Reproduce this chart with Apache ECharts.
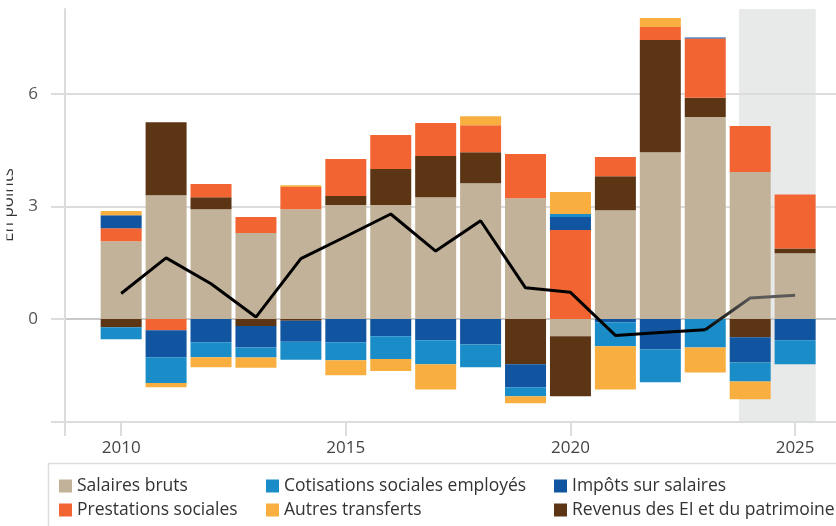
<!DOCTYPE html>
<html>
<head>
<meta charset="utf-8">
<script src="https://cdn.jsdelivr.net/npm/echarts@6/dist/echarts.min.js"></script>
<style>
html,body{margin:0;padding:0;background:#fff;}
#c{width:836px;height:526px;}
</style>
</head>
<body>
<div id="c"></div>
<script>
// ---- data ----
const years = [2010,2011,2012,2013,2014,2015,2016,2017,2018,2019,2020,2021,2022,2023,2024,2025];
const salairesBruts = [2.07,3.30,2.93,2.29,2.93,3.04,3.04,3.25,3.62,3.22,-0.46,2.90,4.45,5.39,3.92,1.75];
const revenusEI     = [-0.22,1.95,0.32,-0.19,-0.05,0.24,0.96,1.10,0.83,-1.21,-1.60,0.91,2.99,0.51,-0.49,0.13];
const prestations   = [0.35,-0.30,0.35,0.43,0.59,0.99,0.91,0.88,0.72,1.18,2.37,0.51,0.35,1.58,1.23,1.44];
const impots        = [0.35,-0.72,-0.62,-0.57,-0.56,-0.62,-0.46,-0.57,-0.68,-0.61,0.35,-0.09,-0.81,0.03,-0.67,-0.57];
const cotisations   = [-0.32,-0.69,-0.40,-0.27,-0.48,-0.48,-0.61,-0.64,-0.61,-0.24,0.08,-0.64,-0.88,-0.76,-0.51,-0.64];
const autres        = [0.11,-0.11,-0.27,-0.27,0.05,-0.40,-0.32,-0.67,0.24,-0.19,0.59,-1.15,0.24,-0.67,-0.47,0];
const totalLine     = [0.68,1.63,0.94,0.05,1.61,2.20,2.80,1.81,2.62,0.83,0.71,-0.44,-0.36,-0.29,0.56,0.63];
const lastObservedYear = 2023;
const xTickLabels = [2010,2015,2020,2025];
const yTickLabels = [0,3,6];
const xRange = [2008.75, 2025.91];
const yRange = [-2.75, 8.27];
const shadeRange = [2023.75, 2025.46];

// ---- chart ----
const FONT = '"Open Sans", "Noto Sans", sans-serif';
const GRID_COLOR = '#dcdcdc';
const chart = echarts.init(document.getElementById('c'), null, {renderer:'canvas'});
const pairXY = (xs, arr) => xs.map((y,i)=>[y,arr[i]]);
// value first, year second: the value column is then the stacked dimension
const pairVX = (xs, arr) => xs.map((y,i)=>[arr[i],y]);

const barDefs = [
  ['Salaires bruts', salairesBruts, '#C2B299'],
  ['Revenus des EI et du patrimoine', revenusEI, '#5C3515'],
  ['Prestations sociales', prestations, '#F26532'],
  ['Impôts sur salaires', impots, '#1155A0'],
  ['Cotisations sociales employés', cotisations, '#1A8DC8'],
  ['Autres transferts', autres, '#F9AF40']
];

const series = [{
  type:'line', name:'_shade', data:[], silent:true,
  markArea:{silent:true, z:0, itemStyle:{color:'#e8e9e9'}, data:[[{xAxis:shadeRange[0]},{xAxis:shadeRange[1]}]]}
}];
barDefs.forEach(([name, arr, color]) => {
  series.push({
    type:'bar', name, stack:'total', stackStrategy:'samesign', barWidth:41,
    encode:{x:1, y:0}, data: pairVX(years, arr),
    itemStyle:{color}, emphasis:{disabled:true}, z:2
  });
});
const splitIdx = years.indexOf(lastObservedYear);
series.push({
  type:'line', name:'_total', data: pairXY(years.slice(0, splitIdx+1), totalLine.slice(0, splitIdx+1)),
  symbol:'none', lineStyle:{color:'#000', width:3}, z:4, silent:true
});
series.push({
  type:'line', name:'_totalForecast', data: pairXY(years.slice(splitIdx), totalLine.slice(splitIdx)),
  symbol:'none', z:4, silent:true,
  lineStyle:{width:3, color:{type:'linear', x:0, y:0, x2:1, y2:0,
    colorStops:[{offset:0,color:'#000'},{offset:0.5,color:'#5a5a58'},{offset:1,color:'#5a5a58'}]}}
});

const legendBase = {
  orient:'vertical', itemWidth:13, itemHeight:13, itemGap:6, padding:0, top:477,
  icon:'rect', selectedMode:false,
  textStyle:{fontSize:17.5, color:'#333', fontFamily:FONT}
};

chart.setOption({
  animation:false,
  textStyle:{fontFamily:FONT},
  grid:{left:65, right:0, top:9, bottom:104, containLabel:false},
  xAxis:[{
    type:'value', min:xRange[0], max:xRange[1], z:1,
    axisLine:{show:true, onZero:false, lineStyle:{color:GRID_COLOR, width:2}},
    axisTick:{show:true, customValues:[xRange[0]].concat(xTickLabels), length:14, lineStyle:{color:GRID_COLOR, width:2}},
    axisLabel:{customValues:xTickLabels, formatter:v=>String(v), margin:18, fontSize:17, color:'#444', fontFamily:FONT},
    splitLine:{show:false}
  },{
    type:'value', min:xRange[0], max:xRange[1], position:'bottom', offset:0, z:1,
    axisLine:{show:false},
    axisTick:{show:true, inside:true, customValues:xTickLabels, length:12, lineStyle:{color:GRID_COLOR, width:2}},
    axisLabel:{show:false},
    splitLine:{show:false}
  }],
  yAxis:{
    type:'value', min:yRange[0], max:yRange[1], z:1,
    axisLine:{show:true, lineStyle:{color:GRID_COLOR, width:2}},
    axisTick:{show:true, customValues:[yRange[0]].concat(yTickLabels), length:14, lineStyle:{color:GRID_COLOR, width:2}},
    axisLabel:{customValues:yTickLabels, formatter:v=>String(v), margin:27, fontSize:17, color:'#555', fontFamily:FONT},
    splitLine:{show:true, lineStyle:{color:[GRID_COLOR,'#c9c9c9',GRID_COLOR,GRID_COLOR], width:2}}
  },
  legend:[
    Object.assign({}, legendBase, {left:59, data:['Salaires bruts','Prestations sociales']}),
    Object.assign({}, legendBase, {left:266, data:['Cotisations sociales employés','Autres transferts']}),
    Object.assign({}, legendBase, {left:554, data:['Impôts sur salaires','Revenus des EI et du patrimoine']})
  ],
  graphic:[
    {type:'rect', silent:true, shape:{x:48.5, y:463.5, width:820, height:100},
     style:{fill:'none', stroke:'#dddddd', lineWidth:1.5}},
    {type:'text', silent:true, x:8, y:205, rotation:Math.PI/2, z:10,
     style:{text:'En points', fontSize:17, fontFamily:FONT, fill:'#333', align:'center', verticalAlign:'middle', textAlign:'center', textVerticalAlign:'middle'}},
    {type:'rect', silent:true, z:20, shape:{x:0, y:150, width:6.5, height:110}, style:{fill:'#fff'}}
  ],
  series
});
</script>
</body>
</html>
